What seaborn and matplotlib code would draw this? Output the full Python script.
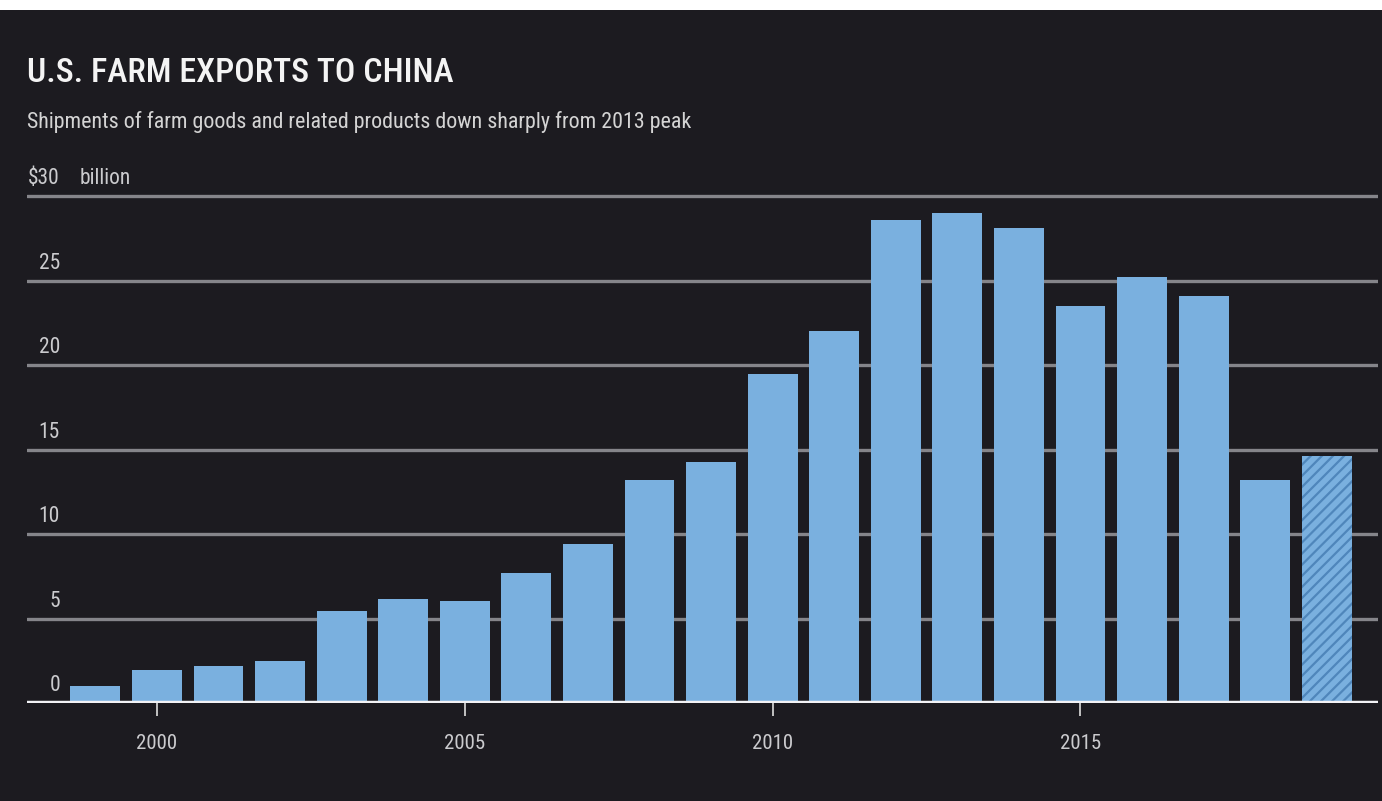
import matplotlib
matplotlib.use("Agg")
import matplotlib.pyplot as plt
from matplotlib import font_manager
from matplotlib.transforms import blended_transform_factory, offset_copy
import seaborn as sns
import pandas as pd

# U.S. farm exports to China, billions of dollars (2019 = estimate)
years = list(range(1999, 2020))
exports = [1.0, 1.95, 2.2, 2.5, 5.45, 6.15, 6.05, 7.7, 9.4, 13.2, 14.25,
           19.5, 22.0, 28.6, 29.0, 28.1, 23.5, 25.2, 24.1, 13.2, 14.6]
estimate_years = [2019]
y_ticks = [0, 5, 10, 15, 20, 25, 30]
x_ticks = [2000, 2005, 2010, 2015]

title = "U.S. FARM EXPORTS TO CHINA"
subtitle = "Shipments of farm goods and related products down sharply from 2013 peak"
unit_label = "billion"

BG = "#1c1b20"
BAR = "#7ab0df"
HATCH = "#4f86bb"
GRID = "#85858a"
LABEL = "#cbcbce"

available = {f.name for f in font_manager.fontManager.ttflist}
family = next((f for f in ["Roboto Condensed", "IBM Plex Sans Condensed",
                           "Open Sans Condensed", "Lato", "DejaVu Sans"]
               if f in available), "DejaVu Sans")

sns.set_theme(style="dark")
plt.rcParams["font.family"] = [family, "DejaVu Sans"]
plt.rcParams["hatch.color"] = HATCH
plt.rcParams["hatch.linewidth"] = 1.6

df = pd.DataFrame({"year": years, "exports": exports})

fig = plt.figure(figsize=(13.82, 8.01), dpi=100, facecolor=BG)
ax = fig.add_axes([0.0195, 0.1223, 0.9775, 0.6454])
ax.set_facecolor(BG)

# white strip across the top edge
fig.patches.append(plt.Rectangle((0, 1 - 10 / 801), 1, 10 / 801, transform=fig.transFigure,
                                 facecolor="white", edgecolor="none", zorder=10))

sns.barplot(data=df, x="year", y="exports", native_scale=True, color=BAR,
            saturation=1, width=0.81, ax=ax, zorder=3, linewidth=0)

for yr, patch in zip(years, ax.patches):
    patch.set_facecolor(BAR)
    patch.set_edgecolor("none")
    if yr in estimate_years:
        patch.set_hatch("///")
        patch.set_edgecolor(HATCH)
        patch.set_linewidth(0)

ax.set_xlim(1997.89, 2019.83)
ax.set_ylim(0, 30.6)

for spine in ax.spines.values():
    spine.set_visible(False)

# horizontal gridlines and white baseline
for v in y_ticks[1:]:
    ax.axhline(v, color=GRID, lw=2.4, zorder=1)
ax.axhline(0, color="#f2f2f5", lw=3.2, zorder=4)

ax.set_yticks([])
ax.set_xticks(x_ticks)
ax.set_xticklabels([str(t) for t in x_ticks], fontsize=15, color=LABEL)
ax.tick_params(axis="x", length=9, width=1.3, color="#d0d0d0", pad=13, bottom=True)
ax.set_xlabel("")
ax.set_ylabel("")
ax.grid(False)

# y labels sit just above each gridline, right-aligned at the left edge
trans = offset_copy(blended_transform_factory(ax.transAxes, ax.transData),
                    fig=fig, x=0, y=5, units="points")
for v in y_ticks:
    label = f"${v}" if v == y_ticks[-1] else str(v)
    ax.text(0.0245, v, label, transform=trans, ha="right", va="bottom",
            fontsize=15.5, color=LABEL)
ax.text(0.039, y_ticks[-1], unit_label, transform=trans, ha="left", va="bottom",
        fontsize=15.5, color=LABEL)

fig.text(0.0195, 1 - 82 / 801, title, fontsize=24.5, fontweight="medium",
         color="#f4f4f4", ha="left", va="baseline")
fig.text(0.0195, 1 - 128 / 801, subtitle, fontsize=15.8, color="#d4d4d4", ha="left",
         va="baseline")

fig.savefig("out.png", dpi=100, facecolor=BG)
